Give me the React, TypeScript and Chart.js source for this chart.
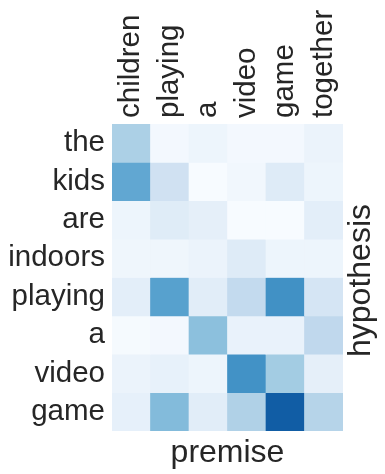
import React, { useEffect, useRef } from 'react';
import { Chart, registerables } from 'chart.js';

Chart.register(...registerables);

const premise = ['children', 'playing', 'a', 'video', 'game', 'together'];
const hypothesis = ['the', 'kids', 'are', 'indoors', 'playing', 'a', 'video', 'game'];

const rowThe = [0.33, 0.02, 0.05, 0.02, 0.02, 0.06];
const rowKids = [0.53, 0.2, 0.0, 0.03, 0.125, 0.05];
const rowAre = [0.05, 0.12, 0.09, 0.0, 0.0, 0.1];
const rowIndoors = [0.04, 0.04, 0.06, 0.125, 0.05, 0.05];
const rowPlaying = [0.1, 0.56, 0.11, 0.26, 0.63, 0.17];
const rowA = [0.01, 0.02, 0.42, 0.07, 0.07, 0.27];
const rowVideo = [0.06, 0.08, 0.05, 0.625, 0.36, 0.09];
const rowGame = [0.085, 0.44, 0.11, 0.32, 0.83, 0.3];

const attention = [rowThe, rowKids, rowAre, rowIndoors, rowPlaying, rowA, rowVideo, rowGame];

const BLUES = ['#f7fbff', '#deebf7', '#c6dbef', '#9ecae1', '#6baed6', '#4292c6', '#2171b5', '#08519c', '#08306b'];

function hexToRgb(h: string) {
  const n = parseInt(h.slice(1), 16);
  return [(n >> 16) & 255, (n >> 8) & 255, n & 255];
}

function blues(v: number) {
  const t = Math.max(0, Math.min(1, v)) * (BLUES.length - 1);
  const i = Math.min(Math.floor(t), BLUES.length - 2);
  const f = t - i;
  const a = hexToRgb(BLUES[i]);
  const b = hexToRgb(BLUES[i + 1]);
  const c = a.map((x, k) => Math.round(x + (b[k] - x) * f));
  return `rgb(${c[0]},${c[1]},${c[2]})`;
}

const FONT = "'Liberation Sans', Arial, sans-serif";
const TEXT = '#262626';

const rightTitle = {
  id: 'rightTitle',
  afterDraw(chart: any) {
    const s = chart.scales.y2;
    if (!s) return;
    const ctx = chart.ctx;
    ctx.save();
    ctx.font = `32px ${FONT}`;
    ctx.fillStyle = TEXT;
    ctx.textAlign = 'center';
    ctx.textBaseline = 'middle';
    ctx.translate((s.left + s.right) / 2 - 3, (chart.chartArea.top + chart.chartArea.bottom) / 2 + 3);
    ctx.rotate(-Math.PI / 2);
    ctx.fillText('hypothesis', 0, 0);
    ctx.restore();
  },
};

export default function App() {
  const ref = useRef<HTMLCanvasElement>(null);
  useEffect(() => {
    if (!ref.current) return;
    const chart = new Chart(ref.current, {
      type: 'bar',
      data: {
        labels: premise,
        datasets: attention.map((row, i) => ({
          label: hypothesis[i],
          data: row.map(() => 1),
          backgroundColor: row.map((v) => blues(v)),
          borderWidth: 0,
          barPercentage: 1,
          categoryPercentage: 1,
          stack: 's',
        })),
      },
      options: {
        animation: false,
        responsive: true,
        maintainAspectRatio: false,
        layout: { padding: 0 },
        plugins: { legend: { display: false }, tooltip: { enabled: false } },
        scales: {
          x: {
            type: 'category',
            position: 'top',
            stacked: true,
            grid: { display: false, drawTicks: false },
            border: { display: false },
            ticks: {
              font: { size: 29.5, family: FONT },
              color: TEXT,
              minRotation: 90,
              maxRotation: 90,
              autoSkip: false,
              padding: 6,
              labelOffset: 35.4,
            },
            afterFit: (s: any) => { s.height = 124; },
          },
          x2: {
            type: 'category',
            position: 'bottom',
            labels: premise,
            grid: { display: false, drawTicks: false },
            border: { display: false },
            ticks: { display: false },
            title: { display: true, text: 'premise', color: TEXT, font: { size: 32, family: FONT }, padding: { top: 0, bottom: 2 } },
            afterFit: (s: any) => { s.height = 43; },
          },
          y: {
            type: 'linear',
            position: 'left',
            stacked: true,
            min: 0,
            max: 8,
            reverse: true,
            grid: { display: false, drawTicks: false },
            border: { display: false },
            afterBuildTicks: (s: any) => { s.ticks = hypothesis.map((_, i) => ({ value: i + 0.5 })); },
            ticks: {
              font: { size: 29.5, family: FONT },
              color: TEXT,
              autoSkip: false,
              padding: 7,
              callback: (v: any) => hypothesis[Math.floor(Number(v))],
            },
            afterFit: (s: any) => { s.width = 112; },
          },
          y2: {
            type: 'linear',
            position: 'right',
            min: 0,
            max: 8,
            grid: { display: false, drawTicks: false },
            border: { display: false },
            ticks: { display: false },
            afterFit: (s: any) => { s.width = 42; },
          },
        },
      },
      plugins: [rightTitle],
    });
    return () => chart.destroy();
  }, []);
  return (
    <div style={{ position: 'fixed', left: 0, top: 0, width: 385, height: 474 }}>
      <canvas ref={ref} />
    </div>
  );
}
